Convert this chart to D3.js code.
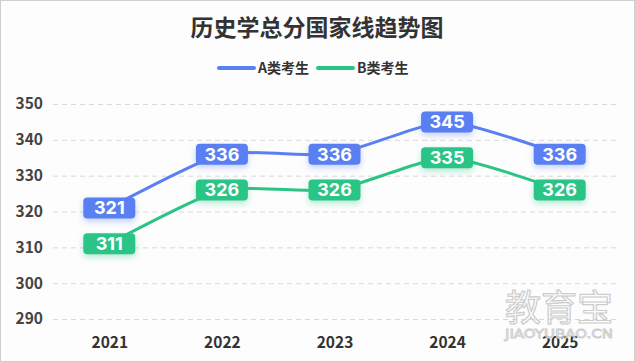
<!DOCTYPE html>
<html><head><meta charset="utf-8">
<script src="https://cdn.jsdelivr.net/npm/d3@7"></script>
<style>
html,body{margin:0;padding:0;background:#fff;}
svg{display:block;}
</style></head>
<body>
<svg id="c" width="635" height="362"></svg>
<script>
const title = "历史学总分国家线趋势图";
const years = ["2021","2022","2023","2024","2025"];
const seriesNames = ["A类考生","B类考生"];
const seriesA = [321,336,336,345,336];
const seriesB = [311,326,326,335,326];
const yTicks = [290,300,310,320,330,340,350];
const colors = ["#5a7ff2","#2cc486"];
const watermark = ["教育宝","JIAOYUBAO.CN"];

const svg = d3.select("#c");
const W = 635, H = 362;
const font = "'Noto Sans CJK SC','Noto Sans',sans-serif";

svg.append("rect").attr("x",0.5).attr("y",0.5).attr("width",W-1).attr("height",H-1)
  .attr("fill","#fdfdfd").attr("stroke","#cfcfcf");

const defs = svg.append("defs");
colors.forEach((c,i)=>{
  const f = defs.append("filter").attr("id","sh"+i).attr("x","-30%").attr("y","-50%").attr("width","160%").attr("height","220%");
  f.append("feDropShadow").attr("dx",0).attr("dy",3).attr("stdDeviation",3).attr("flood-color",c).attr("flood-opacity",0.35);
});

const x = d3.scalePoint().domain(years).range([53,616]).padding(0.5);
const y = d3.scaleLinear().domain([290,350]).range([319,104]);

// title
svg.append("text").attr("x",317).attr("y",35.5).attr("text-anchor","middle")
  .attr("font-family",font).attr("font-weight",700).attr("font-size",23).attr("fill","#333")
  .text(title);

// legend
const legend = [{x:219,tx:258},{x:318,tx:357}];
seriesNames.forEach((n,i)=>{
  svg.append("line").attr("x1",legend[i].x).attr("x2",legend[i].x+35).attr("y1",68).attr("y2",68)
    .attr("stroke",colors[i]).attr("stroke-width",4).attr("stroke-linecap","round");
  svg.append("text").attr("x",legend[i].tx).attr("y",73).attr("font-family",font).attr("font-weight",700)
    .attr("font-size",14).attr("fill","#333").text(n);
});

// grid
const yAxis = d3.axisLeft(y).tickValues(yTicks).tickSize(-(616-53)).tickFormat(d3.format("d"));
const gy = svg.append("g").attr("transform","translate(53,0)").call(yAxis);
gy.select(".domain").remove();
gy.selectAll(".tick line").attr("stroke","#d9d9d9").attr("stroke-dasharray","5,4");
gy.selectAll(".tick text").attr("x",-10).attr("font-family",font).attr("font-weight",700)
  .attr("font-size",15.5).attr("fill","#444");

// x axis
const xAxis = d3.axisBottom(x).tickSize(0);
const gx = svg.append("g").attr("transform","translate(0,330)").call(xAxis);
gx.select(".domain").remove();
gx.selectAll(".tick text").attr("dy","0.95em").attr("font-family",font).attr("font-weight",700)
  .attr("font-size",15.5).attr("fill","#333");

// watermark
svg.append("text").attr("x",559).attr("y",321).attr("text-anchor","middle").attr("font-family",font)
  .attr("font-size",36).attr("fill","none").attr("stroke","#cccccc").attr("stroke-width",1.2).text(watermark[0]);
svg.append("text").attr("x",505).attr("y",338).attr("textLength",108).attr("lengthAdjust","spacingAndGlyphs")
  .attr("font-family","'DejaVu Sans',sans-serif")
  .attr("font-size",13).attr("fill","none").attr("stroke","#cccccc").attr("stroke-width",0.9).text(watermark[1]);

// lines
const line = d3.line().x((d,i)=>x(years[i])).y(d=>y(d)).curve(d3.curveCardinal.tension(0.4));
[seriesA,seriesB].forEach((s,i)=>{
  svg.append("path").datum(s).attr("d",line).attr("fill","none").attr("stroke",colors[i])
    .attr("stroke-width",3).attr("stroke-linejoin","round");
});

// labels
[seriesA,seriesB].forEach((s,i)=>{
  const g = svg.append("g");
  s.forEach((v,j)=>{
    const cx = x(years[j]), cy = y(v);
    g.append("rect").attr("x",cx-26).attr("y",cy-10.5).attr("width",52).attr("height",21).attr("rx",4)
      .attr("fill",colors[i]).attr("filter","url(#sh"+i+")");
    g.append("text").attr("x",cx).attr("y",cy).attr("dy","0.36em").attr("text-anchor","middle")
      .attr("font-family","Inter,'Noto Sans',sans-serif").attr("font-weight",700).attr("font-size",18)
      .attr("fill","#fff").text(v);
  });
});
</script>
</body></html>
